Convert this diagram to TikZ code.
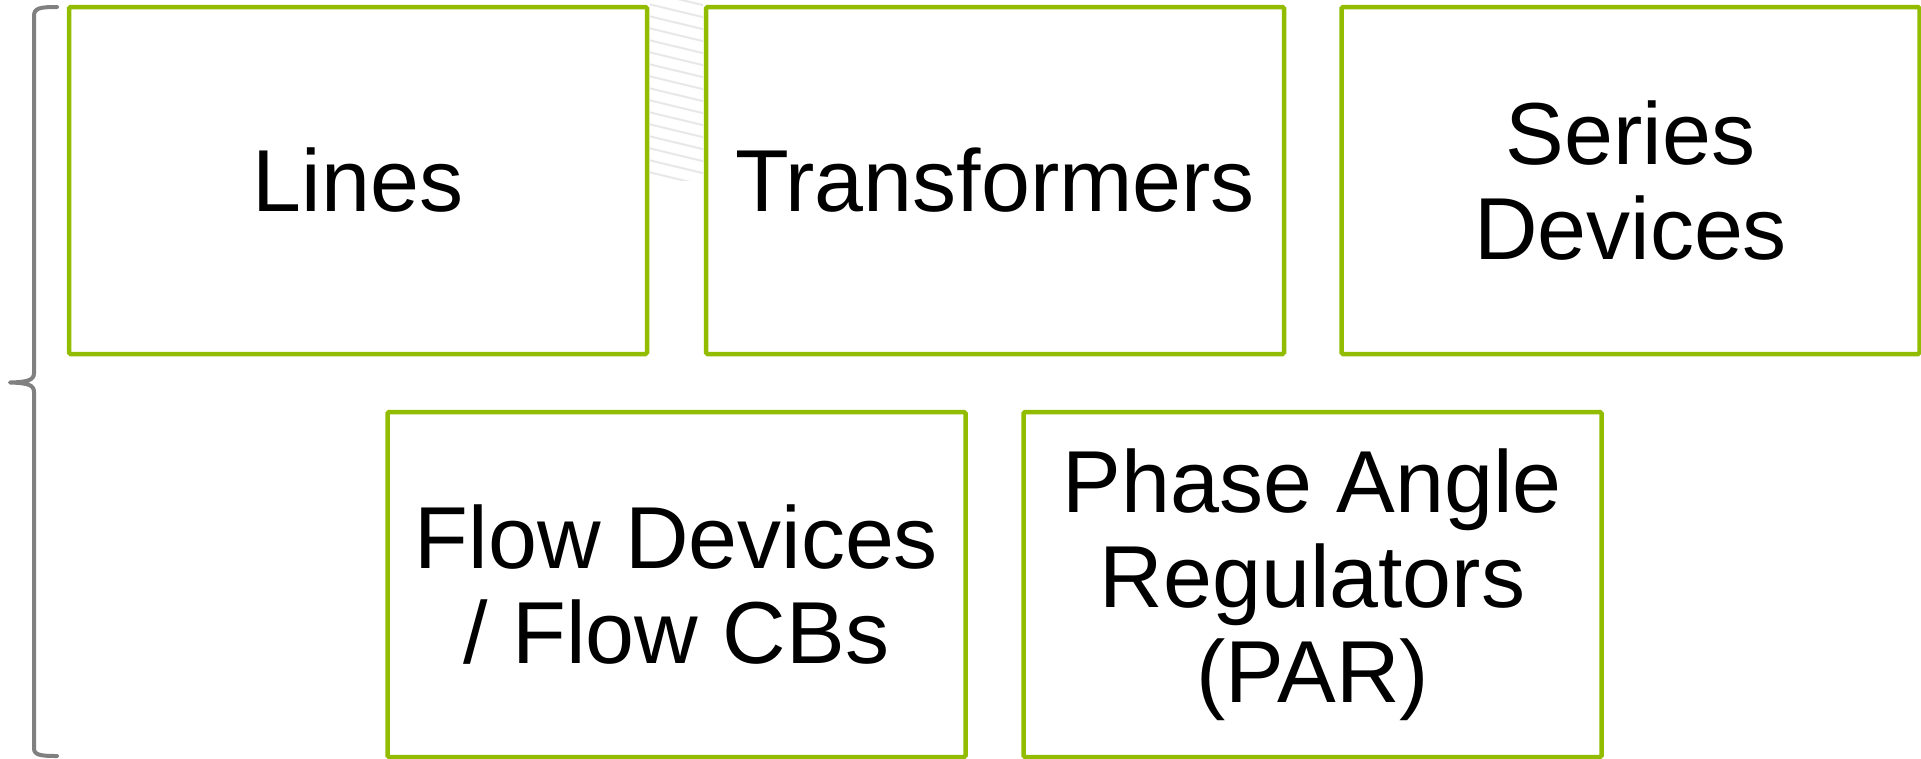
\documentclass[tikz,border=0pt]{standalone}
\usepackage{fontspec}
\setmainfont{Liberation Sans}
\definecolor{boxgreen}{RGB}{146,188,0}
\definecolor{bracegray}{RGB}{128,128,128}
\definecolor{stripegray}{RGB}{232,232,232}
\begin{document}
\begin{tikzpicture}[x=1pt,y=-1pt,
  itembox/.style={draw=boxgreen, line width=4.5pt, fill=white, rounded corners=1.5pt,
    minimum width=578pt, minimum height=347pt, align=center, inner sep=0pt,
    font=\fontsize{88}{95}\selectfont},
  bracestyle/.style={draw=bracegray, line width=4pt, line cap=round, line join=round},
  stripe/.style={draw=stripegray, line width=2pt}
]
\useasboundingbox[fill=white] (0,0) rectangle (1921,758);

% faint background stripes in the gap
\begin{scope}
  \clip (650,0) rectangle (703,180);
  \foreach \i in {0,...,16} {
    \draw[stripe] (640,{\i*12-10}) -- (715,{\i*12+8});
  }
\end{scope}

% top row
\node[itembox] (lines) at (358,180.5) {Lines};
\node[itembox] (trans) at (995,180.5) {Transformers};
\node[itembox] (series) at (1630.5,180.5) {Series\\Devices};

% bottom row
\node[itembox, minimum height=345pt] (flow) at (676.5,584.5) {Flow Devices\\/ Flow CBs};
\node[itembox, minimum height=345pt] (par) at (1312.5,584.5) {Phase Angle\\Regulators\\(PAR)};

% left brace
\coordinate (btop) at (57,7);
\coordinate (btip) at (10,382.5);
\coordinate (bbot) at (57,756);
\draw[bracestyle] (btop) .. controls (40,7) and (34,8) .. (34,16) -- (34,373)
  .. controls (34,380) and (28,382) .. (btip)
  .. controls (28,383) and (34,385) .. (34,392) -- (34,748)
  .. controls (34,755) and (40,756) .. (bbot);
\end{tikzpicture}
\end{document}
